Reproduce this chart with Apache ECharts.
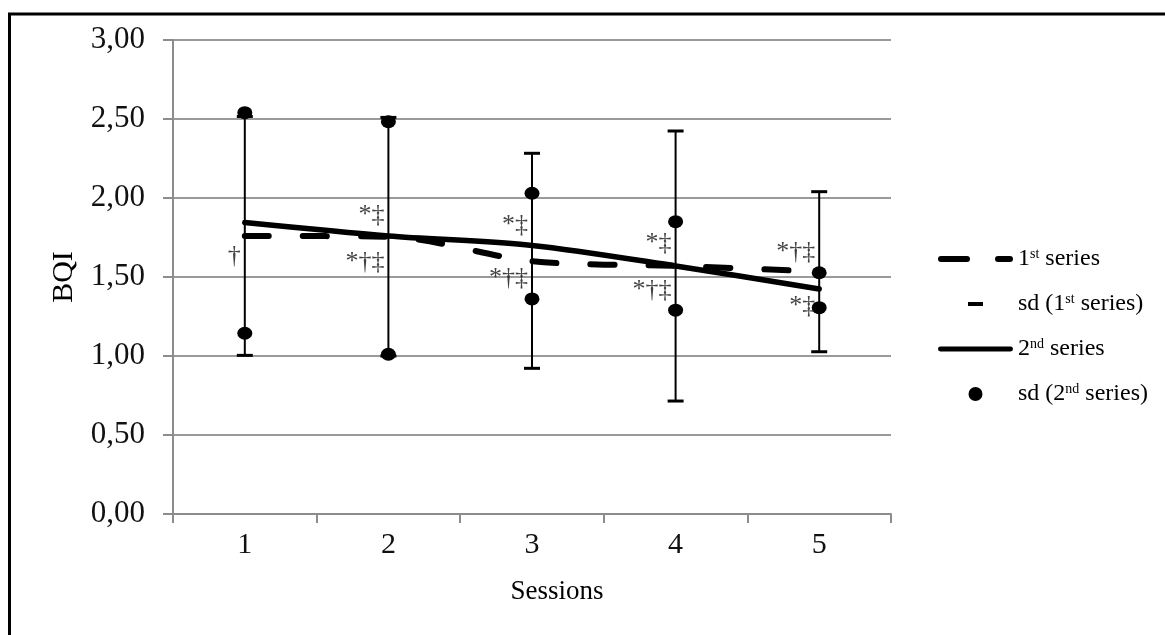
<!DOCTYPE html>
<html>
<head>
<meta charset="utf-8">
<script src="https://cdn.jsdelivr.net/npm/echarts@6/dist/echarts.min.js"></script>
<style>
html,body{margin:0;padding:0;background:#fff;}
#chart{width:1165px;height:635px;}
</style>
</head>
<body>
<div id="chart"></div>
<script>
// ---- data ----
var categories = ['1', '2', '3', '4', '5'];
var series1 = [1.76, 1.755, 1.60, 1.57, 1.535];
var sd1Low  = [1.004, 1.00, 0.922, 0.715, 1.027];
var sd1High = [2.516, 2.51, 2.283, 2.424, 2.04];
var series2 = [1.845, 1.76, 1.70, 1.57, 1.424];
var sd2Upper = [2.54, 2.483, 2.03, 1.85, 1.527];
var sd2Lower = [1.144, 1.011, 1.361, 1.29, 1.306];
var yTicks = [0, 0.5, 1, 1.5, 2, 2.5, 3];
// significance annotations: category index, anchor value, text
var annCat  = [0, 1, 1, 2, 2, 3, 3, 4, 4];
var annY    = [1.633, 1.89, 1.595, 1.83, 1.494, 1.715, 1.418, 1.658, 1.316];
var annText = ['†', '*‡', '*†‡', '*‡', '*†‡', '*‡', '*†‡', '*†‡', '*‡'];
var legendNames = ['1st series', 'sd (1st series)', '2nd series', 'sd (2nd series)'];

var FONT = '"Liberation Serif", "Times New Roman", serif';

var errData = categories.map(function (c, i) { return [i, sd1Low[i], sd1High[i]]; });
var dotData = [];
categories.forEach(function (c, i) {
  dotData.push([i, sd2Upper[i]]);
  dotData.push([i, sd2Lower[i]]);
});
var annData = annCat.map(function (c, i) { return [c, annY[i], annText[i]]; });

var BOX = 'M0,0h0.05v0.05h-0.05Z M74.95,13.95h0.05v0.05h-0.05Z ';
var chart = echarts.init(document.getElementById('chart'), null, {renderer: 'canvas'});

var option = {
  animation: false,
  backgroundColor: '#fff',
  graphic: [{
    type: 'rect',
    shape: {x: 9.5, y: 14, width: 1300, height: 800},
    style: {fill: 'none', stroke: '#000', lineWidth: 3},
    z: 100
  }],
  grid: {left: 173, right: 274, top: 40, bottom: 121, containLabel: false},
  legend: {
    orient: 'vertical',
    left: 933,
    top: 242,
    itemWidth: 75,
    itemHeight: 14,
    itemGap: 21,
    selectedMode: false,
    data: [
      {name: legendNames[0], icon: 'path://' + BOX + 'M3,4h26a3,3 0 0,1 0,6h-26a3,3 0 0,1 0,-6Z M60,4h12a3,3 0 0,1 0,6h-12a3,3 0 0,1 0,-6Z', itemStyle: {color: '#000'}},
      {name: legendNames[1], icon: 'path://' + BOX + 'M30,5h15v4h-15Z', itemStyle: {color: '#000'}},
      {name: legendNames[2], icon: 'path://' + BOX + 'M2,4.5h71a2.5,2.5 0 0,1 0,5h-71a2.5,2.5 0 0,1 0,-5Z', itemStyle: {color: '#000'}},
      {name: legendNames[3], icon: 'path://' + BOX + 'M30.5,7a7,7 0 1,0 14,0a7,7 0 1,0 -14,0Z', itemStyle: {color: '#000'}}
    ],
    formatter: function (name) {
      return name.replace(/(\d)(st|nd)/, '$1{sup|$2}');
    },
    textStyle: {
      fontFamily: FONT,
      fontSize: 24,
      color: '#000',
      rich: {
        sup: {fontFamily: FONT, fontSize: 14, color: '#000', verticalAlign: 'top', padding: [0, 0, 9, 0]}
      }
    }
  },
  xAxis: {
    type: 'category',
    data: categories,
    boundaryGap: true,
    name: 'Sessions',
    nameLocation: 'middle',
    nameGap: 64,
    nameTextStyle: {fontFamily: FONT, fontSize: 27, color: '#000', padding: [0, 0, 0, 50]},
    axisLine: {show: true, lineStyle: {color: '#8c8c8c', width: 2}},
    axisTick: {show: true, length: 9, lineStyle: {color: '#8c8c8c', width: 2}},
    axisLabel: {fontFamily: FONT, fontSize: 30, color: '#111', margin: 16},
    splitLine: {show: false}
  },
  yAxis: {
    type: 'value',
    min: yTicks[0],
    max: yTicks[yTicks.length - 1],
    interval: yTicks[1] - yTicks[0],
    name: 'BQI',
    nameLocation: 'middle',
    nameRotate: 90,
    nameGap: 94,
    nameTextStyle: {fontFamily: FONT, fontSize: 30, color: '#000'},
    axisLine: {show: true, lineStyle: {color: '#8c8c8c', width: 2}},
    axisTick: {show: true, length: 10, lineStyle: {color: '#8c8c8c', width: 2}},
    axisLabel: {
      fontFamily: FONT, fontSize: 31, color: '#111', margin: 28,
      formatter: function (v) { return v.toFixed(2).replace('.', ','); }
    },
    splitLine: {show: true, lineStyle: {color: '#9a9a9a', width: 2}}
  },
  series: [
    {
      name: legendNames[1],
      type: 'custom',
      data: errData,
      encode: {x: 0, y: [1, 2]},
      itemStyle: {color: '#000'},
      z: 2,
      renderItem: function (params, api) {
        var x = api.value(0), lo = api.value(1), hi = api.value(2);
        var pLo = api.coord([x, lo]);
        var pHi = api.coord([x, hi]);
        var hw = 8;
        return {
          type: 'group',
          children: [
            {type: 'line', shape: {x1: pLo[0], y1: pLo[1], x2: pHi[0], y2: pHi[1]}, style: {stroke: '#000', lineWidth: 2}},
            {type: 'line', shape: {x1: pLo[0] - hw, y1: pLo[1], x2: pLo[0] + hw, y2: pLo[1]}, style: {stroke: '#000', lineWidth: 3}},
            {type: 'line', shape: {x1: pHi[0] - hw, y1: pHi[1], x2: pHi[0] + hw, y2: pHi[1]}, style: {stroke: '#000', lineWidth: 3}}
          ]
        };
      }
    },
    {
      name: legendNames[0],
      type: 'line',
      data: series1,
      smooth: 0.3,
      symbol: 'none',
      z: 3,
      itemStyle: {color: '#000'},
      lineStyle: {color: '#000', width: 6, type: [24, 34], cap: 'round'}
    },
    {
      name: legendNames[2],
      type: 'line',
      data: series2,
      smooth: 0.3,
      symbol: 'none',
      z: 4,
      itemStyle: {color: '#000'},
      lineStyle: {color: '#000', width: 5.5, cap: 'round'}
    },
    {
      name: legendNames[3],
      type: 'scatter',
      data: dotData,
      symbol: 'circle',
      symbolSize: [15, 13],
      z: 5,
      itemStyle: {color: '#000', opacity: 1}
    },
    {
      name: 'annotations',
      type: 'scatter',
      data: annData,
      symbolSize: 0,
      z: 6,
      silent: true,
      label: {
        show: true,
        position: 'left',
        distance: 4,
        fontFamily: FONT,
        fontSize: 26,
        color: '#111',
        formatter: function (p) { return p.data[2]; }
      }
    }
  ]
};
chart.setOption(option);
</script>
</body>
</html>
